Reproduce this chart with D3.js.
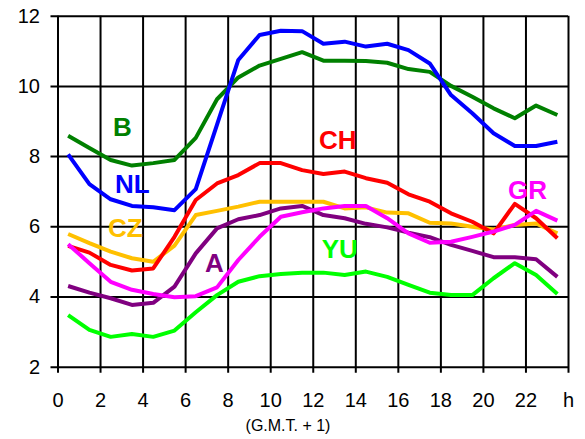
<!DOCTYPE html>
<html>
<head>
<meta charset="utf-8">
<script src="https://cdn.jsdelivr.net/npm/d3@7"></script>
<style>
    body { margin: 0; background: #fff; }
    svg { display: block; font-family: "Liberation Sans", Arial, sans-serif; }
    .axis text { font-size: 20px; fill: #000; }
    .axis line { stroke: #000; stroke-width: 2px; }
    .series { fill: none; stroke-width: 4px; stroke-linejoin: round; }
    .tag { font-size: 26px; font-weight: bold; }
</style>
</head>
<body>
<script>
//hours: values sit at the middle of each hour
var hours = d3.range(0.5, 24, 1);

var xTicks = [0, 2, 4, 6, 8, 10, 12, 14, 16, 18, 20, 22, 24];
var yTicks = [2, 4, 6, 8, 10, 12];

//series values
var B  = [8.58, 8.23, 7.89, 7.73, 7.80, 7.89, 8.52, 9.62, 10.24, 10.58, 10.77, 10.96,
          10.72, 10.72, 10.71, 10.66, 10.48, 10.40, 10.00, 9.69, 9.36, 9.08, 9.44, 9.17];
var NL = [8.05, 7.20, 6.77, 6.58, 6.54, 6.46, 7.06, 8.90, 10.74, 11.45, 11.57, 11.56,
          11.20, 11.26, 11.12, 11.20, 11.02, 10.64, 9.74, 9.22, 8.65, 8.29, 8.29, 8.41];
var CH = [5.44, 5.25, 4.90, 4.74, 4.80, 5.70, 6.75, 7.22, 7.46, 7.80, 7.80, 7.60,
          7.49, 7.56, 7.37, 7.24, 6.91, 6.70, 6.37, 6.13, 5.80, 6.64, 6.23, 5.66];
var CZ = [5.78, 5.52, 5.28, 5.09, 4.99, 5.45, 6.32, 6.44, 6.56, 6.70, 6.70, 6.70,
          6.70, 6.51, 6.54, 6.39, 6.37, 6.10, 6.08, 5.99, 5.91, 6.04, 6.08, 5.80];
var GR = [5.49, 4.95, 4.42, 4.19, 4.07, 3.98, 4.01, 4.26, 5.04, 5.70, 6.27, 6.40,
          6.51, 6.58, 6.58, 6.23, 5.80, 5.53, 5.56, 5.70, 5.85, 6.04, 6.44, 6.16];
var A  = [4.30, 4.11, 3.95, 3.76, 3.82, 4.28, 5.23, 5.94, 6.20, 6.32, 6.51, 6.58,
          6.32, 6.23, 6.07, 5.97, 5.82, 5.69, 5.47, 5.30, 5.12, 5.12, 5.06, 4.56];
var YU = [3.47, 3.05, 2.85, 2.93, 2.85, 3.03, 3.55, 4.04, 4.42, 4.58, 4.64, 4.68,
          4.68, 4.61, 4.71, 4.56, 4.33, 4.11, 4.04, 4.04, 4.52, 4.95, 4.61, 4.07];

//drawing order (last on top), names and colours
var seriesNames = ["YU", "A", "CZ", "CH", "GR", "B", "NL"];
var seriesValues = [YU, A, CZ, CH, GR, B, NL];
var seriesColors = ["#00ff00", "#800080", "#ffc000", "#ff0000", "#ff00ff", "#008000", "#0000ff"];

//where each name is written, in chart units (left edge, baseline)
var tagX = [12.42, 6.93, 2.37, 12.29, 21.18, 2.61, 2.70];
var tagY = [5.10, 4.70, 5.70, 8.20, 6.78, 8.57, 6.95];

window.onload = drawChart();

function drawChart() {
    var width = 585,
        height = 439;

    var svg = d3.select("body")
        .append("svg")
        .attr("width", width)
        .attr("height", height);

    var x = d3.scaleLinear().domain([0, 24]).range([57.5, 568]);
    var y = d3.scaleLinear().domain([2, 12]).range([366.7, 15.7]);

    var plotH = y(2) - y(12),
        plotW = x(24) - x(0);

    //vertical grid, bottom ticks and hour labels
    var xAxis = svg.append("g")
        .attr("class", "axis")
        .attr("transform", "translate(0," + y(2) + ")")
        .call(d3.axisBottom(x)
            .tickValues(xTicks)
            .tickSize(6)
            .tickPadding(20)
            .tickFormat(function(d) { return d === 24 ? "h" : d; }));
    xAxis.select(".domain").remove();
    xAxis.selectAll(".tick line")
        .attr("y1", 6)
        .attr("y2", -plotH);

    //horizontal grid, left ticks and value labels
    var yAxis = svg.append("g")
        .attr("class", "axis")
        .attr("transform", "translate(" + x(0) + ",0)")
        .call(d3.axisLeft(y)
            .tickValues(yTicks)
            .tickSize(7)
            .tickPadding(10.5));
    yAxis.select(".domain").remove();
    yAxis.selectAll(".tick line")
        .attr("x1", -7)
        .attr("x2", plotW);

    //time zone note under the axis
    svg.append("text")
        .attr("x", 288)
        .attr("y", 431)
        .attr("text-anchor", "middle")
        .style("font-size", "16px")
        .text("(G.M.T. + 1)");

    var line = d3.line()
        .x(function(d, i) { return x(hours[i]); })
        .y(function(d) { return y(d); });

    svg.selectAll(".series")
        .data(seriesValues)
        .enter()
        .append("path")
        .attr("class", "series")
        .attr("stroke", function(d, i) { return seriesColors[i]; })
        .attr("d", line);

    svg.selectAll(".tag")
        .data(seriesNames)
        .enter()
        .append("text")
        .attr("class", "tag")
        .attr("x", function(d, i) { return x(tagX[i]); })
        .attr("y", function(d, i) { return y(tagY[i]); })
        .attr("fill", function(d, i) { return seriesColors[i]; })
        .text(function(d) { return d; });
}
</script>
</body>
</html>
